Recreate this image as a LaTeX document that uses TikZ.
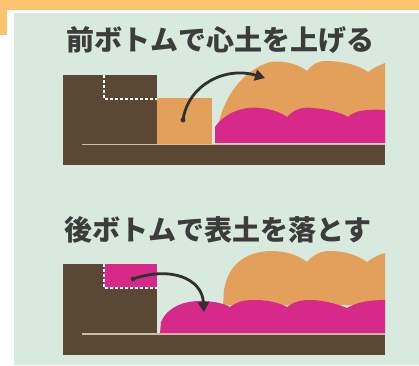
\documentclass[tikz,border=0pt]{standalone}
\usepackage{fontspec}
\newfontfamily\jpfont{Noto Sans CJK JP}
\usepackage{xcolor}
\usepackage{tikz}
\usetikzlibrary{arrows.meta}

\definecolor{band}{HTML}{FDC46F}
\definecolor{panel}{HTML}{D8EADD}
\definecolor{ground}{HTML}{5A4734}
\definecolor{subsoil}{HTML}{E3A05A}
\definecolor{topsoil}{HTML}{D7298A}
\definecolor{seam}{HTML}{CDBBAA}
\definecolor{ink}{HTML}{3C3C3C}

\begin{document}
\begin{tikzpicture}[x=1pt,y=-1pt,line width=2.8pt]
  \tikzset{
    title/.style={font=\jpfont\bfseries\fontsize{28}{30}\selectfont,text=ink,inner sep=0pt},
    digline/.style={white,line width=1.4pt,dash pattern=on 3pt off 2pt},
    seamline/.style={seam,line width=1.5pt},
    move/.style={ink!80!black,line cap=round,-{Triangle[length=10pt,width=11pt]}}
  }
  \useasboundingbox (0,0) rectangle (419,365);

  % frame
  \fill[band] (0,0) rectangle (419,9.5);
  \fill[band] (0,0) rectangle (7,35);
  \fill[panel] (14,13) rectangle (419,365);

  % upper plot
  \node[title] at (220,40) (upper) {前ボトムで心土を上げる};
  \fill[ground] (63,75) rectangle (157,165);
  \fill[ground] (63,144) rectangle (385,165);
  \draw[seamline] (82,144.5) -- (385,144.5);
  \draw[digline] (104,75) -- (104,99) -- (157,99);
  \fill[subsoil] (157,98) rectangle (212,144);
  \fill[subsoil] (215,143) -- (217,133) .. controls (220,105) and (238,72) .. (270,62)
    .. controls (285,60) and (300,65) .. (307,71) .. controls (313,63) and (320,61) .. (325,61)
    .. controls (345,61) and (360,66) .. (368,72) .. controls (373,68) and (380,65) .. (385,63)
    -- (385,143) -- cycle;
  \fill[topsoil] (215,143) -- (215,127) .. controls (225,112) and (245,106) .. (260,108)
    .. controls (272,109) and (282,113) .. (287,117) .. controls (295,108) and (305,107) .. (313,108)
    .. controls (328,109) and (342,113) .. (348,117) .. controls (355,110) and (368,109) .. (385,110)
    -- (385,143) -- cycle;
  \coordinate (lift) at (183,120);
  \coordinate (heap) at (265,78);
  \fill[ink] (lift) circle (2.5pt);
  \draw[move] (lift) .. controls (188,85) and (225,66) .. (heap);

  % lower plot
  \node[title] at (218,230) (lower) {後ボトムで表土を落とす};
  \fill[ground] (63,264) rectangle (157,355);
  \fill[ground] (63,334) rectangle (385,355);
  \draw[seamline] (82,334) -- (385,334);
  \fill[topsoil] (104,264) rectangle (157,288);
  \draw[digline] (104,264) -- (104,288) -- (157,288);
  \fill[subsoil] (223,305) -- (224,290) .. controls (228,265) and (245,252) .. (270,251)
    .. controls (290,251) and (300,257) .. (307,262) .. controls (313,255) and (320,251) .. (330,251)
    .. controls (348,251) and (360,257) .. (367,262) .. controls (372,258) and (380,254) .. (385,253)
    -- (385,305) -- cycle;
  \fill[topsoil] (160,333) -- (161,322) .. controls (168,306) and (185,301) .. (200,301)
    .. controls (215,301) and (225,304) .. (230,307) .. controls (238,301) and (245,300) .. (255,300)
    .. controls (270,300) and (282,304) .. (287,307) .. controls (295,301) and (302,300) .. (310,300)
    .. controls (325,300) and (340,305) .. (347,308) .. controls (357,302) and (370,300) .. (385,300)
    -- (385,333) -- cycle;
  \coordinate (scoop) at (133,279);
  \coordinate (furrow) at (204,312);
  \fill[ink] (scoop) circle (2.5pt);
  \draw[move] (scoop) .. controls (170,266) and (202,278) .. (furrow);
\end{tikzpicture}
\end{document}
